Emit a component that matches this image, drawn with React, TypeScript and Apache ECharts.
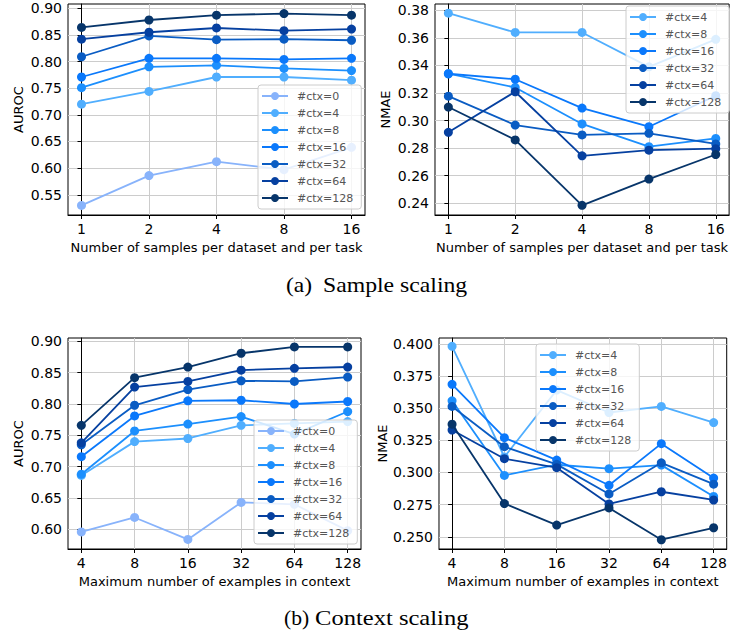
import React, { useEffect, useRef } from "react";
import * as echarts from "echarts";

// ---------- data ----------
const sampleLabels = ["1", "2", "4", "8", "16"];
const contextLabels = ["4", "8", "16", "32", "64", "128"];

const ctxNames = ["#ctx=0", "#ctx=4", "#ctx=8", "#ctx=16", "#ctx=32", "#ctx=64", "#ctx=128"];
const ctxColors = ["#88b3fb", "#50aefe", "#1c8ffd", "#0a78fb", "#0a5cc3", "#0640a0", "#07356a"];

// (a) sample scaling, AUROC
const aAuroc0 = [0.530, 0.586, 0.612, 0.597, 0.639];
const aAuroc4 = [0.720, 0.744, 0.771, 0.771, 0.765];
const aAuroc8 = [0.751, 0.790, 0.793, 0.787, 0.783];
const aAuroc16 = [0.771, 0.806, 0.806, 0.804, 0.806];
const aAuroc32 = [0.809, 0.848, 0.841, 0.842, 0.840];
const aAuroc64 = [0.842, 0.855, 0.863, 0.858, 0.861];
const aAuroc128 = [0.864, 0.878, 0.887, 0.890, 0.887];

// (a) sample scaling, NMAE
const aNmae4 = [0.378, 0.364, 0.364, 0.339, 0.359];
const aNmae8 = [0.334, 0.324, 0.2975, 0.281, 0.287];
const aNmae16 = [0.334, 0.330, 0.309, 0.2955, 0.318];
const aNmae32 = [0.3177, 0.2967, 0.2895, 0.2907, 0.283];
const aNmae64 = [0.2914, 0.3209, 0.2743, 0.2784, 0.2795];
const aNmae128 = [0.3098, 0.2859, 0.2383, 0.2574, 0.2753];

// (b) context scaling, AUROC
const bAuroc0 = [0.596, 0.619, 0.584, 0.643, 0.640, 0.598];
const bAuroc4 = [0.686, 0.740, 0.745, 0.766, 0.769, 0.772];
const bAuroc8 = [0.688, 0.757, 0.768, 0.780, 0.752, 0.788];
const bAuroc16 = [0.716, 0.781, 0.805, 0.806, 0.800, 0.804];
const bAuroc32 = [0.735, 0.798, 0.823, 0.837, 0.836, 0.843];
const bAuroc64 = [0.738, 0.827, 0.836, 0.854, 0.857, 0.859];
const bAuroc128 = [0.766, 0.842, 0.859, 0.881, 0.891, 0.891];

// (b) context scaling, NMAE
const bNmae4 = [0.398, 0.312, 0.364, 0.3466, 0.3513, 0.3388];
const bNmae8 = [0.3557, 0.2977, 0.306, 0.3029, 0.3057, 0.2813];
const bNmae16 = [0.3685, 0.327, 0.3096, 0.290, 0.3224, 0.2956];
const bNmae32 = [0.3513, 0.320, 0.3063, 0.2833, 0.3075, 0.2909];
const bNmae64 = [0.333, 0.3107, 0.3037, 0.2755, 0.285, 0.2786];
const bNmae128 = [0.3375, 0.2758, 0.2591, 0.2724, 0.2477, 0.257];

const aucTicksA = [0.55, 0.6, 0.65, 0.7, 0.75, 0.8, 0.85, 0.9];
const nmaeTicksA = [0.24, 0.26, 0.28, 0.3, 0.32, 0.34, 0.36, 0.38];
const aucTicksB = [0.6, 0.65, 0.7, 0.75, 0.8, 0.85, 0.9];
const nmaeTicksB = [0.25, 0.275, 0.3, 0.325, 0.35, 0.375, 0.4];

const FONT = "DejaVu Sans";

export default function App() {
  const ref = useRef<HTMLDivElement>(null);
  useEffect(() => {
    if (!ref.current) return;
    const chart = echarts.init(ref.current, null, { renderer: "svg" });

    const grids = [
      { left: 68, top: 4, width: 297, height: 211 },
      { left: 435, top: 4, width: 297, height: 211 },
      { left: 68, top: 338, width: 293, height: 211 },
      { left: 439, top: 338, width: 293, height: 211 },
    ].map((g) => ({ ...g, show: true, borderColor: "#000", borderWidth: 1, backgroundColor: "transparent" }));

    const xAxis = (gi: number, labels: string[], name: string) => ({
      type: "value",
      gridIndex: gi,
      min: -0.05 * (labels.length - 1),
      max: (labels.length - 1) * 1.05,
      name,
      nameLocation: "middle",
      nameGap: 26,
      nameTextStyle: { fontFamily: FONT, fontSize: 13, color: "#000" },
      axisLine: { show: true, onZero: false, lineStyle: { color: "#000", width: 1 } },
      axisTick: { show: true, length: 4, lineStyle: { color: "#000" }, customValues: labels.map((_, i) => i) },
      axisLabel: {
        fontFamily: FONT,
        fontSize: 14,
        color: "#000",
        margin: 7,
        customValues: labels.map((_, i) => i),
        formatter: (v: number) => labels[Math.round(v)] ?? "",
      },
      splitLine: { show: true, lineStyle: { color: "#cccccc", width: 1 } },
    });

    const yAxis = (gi: number, min: number, max: number, ticks: number[], dec: number, name: string, gap: number) => ({
      type: "value",
      gridIndex: gi,
      min,
      max,
      name,
      nameLocation: "middle",
      nameGap: gap,
      nameTextStyle: { fontFamily: FONT, fontSize: 13, color: "#000" },
      axisLine: { show: true, lineStyle: { color: "#000", width: 1 } },
      axisTick: { show: true, length: 4, lineStyle: { color: "#000" }, customValues: ticks },
      axisLabel: {
        fontFamily: FONT,
        fontSize: 14,
        color: "#000",
        margin: 6,
        customValues: ticks,
        formatter: (v: number) => v.toFixed(dec),
      },
      splitLine: { show: true, lineStyle: { color: "#cccccc", width: 1 } },
    });

    const mk = (gi: number, ci: number, vals: number[]) => ({
      type: "line",
      name: ctxNames[ci],
      xAxisIndex: gi,
      yAxisIndex: gi,
      data: vals.map((v, i) => [i, v]),
      symbol: "circle",
      symbolSize: 9,
      color: ctxColors[ci],
      lineStyle: { width: 1.8, color: ctxColors[ci] },
      itemStyle: { color: ctxColors[ci] },
      z: 2 + ci * 0.01,
    });

    const series = [
      mk(0, 0, aAuroc0), mk(0, 1, aAuroc4), mk(0, 2, aAuroc8), mk(0, 3, aAuroc16), mk(0, 4, aAuroc32), mk(0, 5, aAuroc64), mk(0, 6, aAuroc128),
      mk(1, 1, aNmae4), mk(1, 2, aNmae8), mk(1, 3, aNmae16), mk(1, 4, aNmae32), mk(1, 5, aNmae64), mk(1, 6, aNmae128),
      mk(2, 0, bAuroc0), mk(2, 1, bAuroc4), mk(2, 2, bAuroc8), mk(2, 3, bAuroc16), mk(2, 4, bAuroc32), mk(2, 5, bAuroc64), mk(2, 6, bAuroc128),
      mk(3, 1, bNmae4), mk(3, 2, bNmae8), mk(3, 3, bNmae16), mk(3, 4, bNmae32), mk(3, 5, bNmae64), mk(3, 6, bNmae128),
    ];

    const legend = (left: number, top: number, names: string[]) => ({
      orient: "vertical",
      left,
      top,
      data: names,
      itemWidth: 26,
      itemHeight: 10,
      itemGap: 5,
      padding: [5, 8, 5, 3],
      backgroundColor: "rgba(255,255,255,0.8)",
      borderColor: "#cccccc",
      borderWidth: 1,
      borderRadius: 3,
      selectedMode: false,
      textStyle: { fontFamily: FONT, fontSize: 11, color: "#555", lineHeight: 12, padding: [0, 0, 0, 4] },
    });

    const capStyle = { fontFamily: "Liberation Serif", fontSize: 21, fill: "#000", textVerticalAlign: "middle" };

    chart.setOption({
      animation: false,
      grid: grids,
      xAxis: [
        xAxis(0, sampleLabels, "Number of samples per dataset and per task"),
        xAxis(1, sampleLabels, "Number of samples per dataset and per task"),
        xAxis(2, contextLabels, "Maximum number of examples in context"),
        xAxis(3, contextLabels, "Maximum number of examples in context"),
      ],
      yAxis: [
        yAxis(0, 0.512, 0.908, aucTicksA, 2, "AUROC", 43),
        yAxis(1, 0.2313, 0.3847, nmaeTicksA, 2, "NMAE", 43),
        yAxis(2, 0.5687, 0.9053, aucTicksB, 2, "AUROC", 43),
        yAxis(3, 0.2405, 0.4045, nmaeTicksB, 3, "NMAE", 50),
      ],
      legend: [
        legend(258, 85, ctxNames),
        legend(626, 6, ctxNames.slice(1)),
        legend(254, 420, ctxNames),
        legend(536, 344, ctxNames.slice(1)),
      ],
      series,
      graphic: [
        { type: "text", x: 286, y: 284.5, scaleX: 1.12, style: { ...capStyle, text: "(a)" } },
        { type: "text", x: 323, y: 284.5, scaleX: 1.13, style: { ...capStyle, text: "Sample scaling" } },
        { type: "text", x: 284, y: 618.2, scaleX: 1.03, style: { ...capStyle, text: "(b)" } },
        { type: "text", x: 315, y: 618.2, scaleX: 1.17, style: { ...capStyle, text: "Context scaling" } },
      ],
    });
    return () => chart.dispose();
  }, []);
  return <div ref={ref} style={{ position: "absolute", left: 0, top: 0, width: 730, height: 634 }} />;
}
